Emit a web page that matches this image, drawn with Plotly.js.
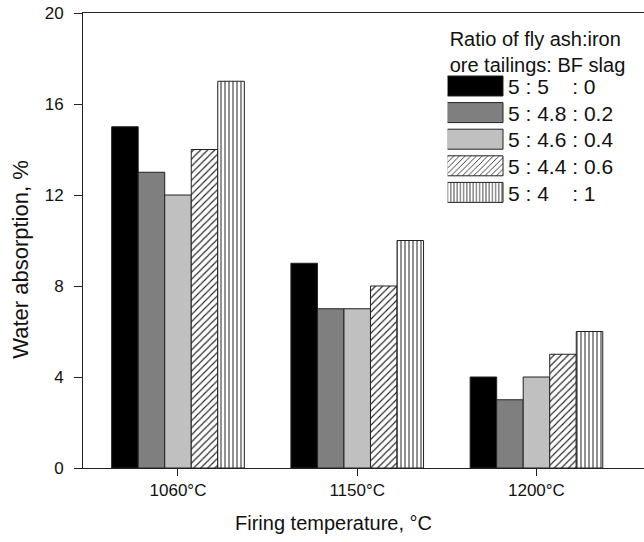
<!DOCTYPE html>
<html><head><meta charset="utf-8">
<script src="https://cdn.plot.ly/plotly-3.0.1.min.js"></script>
<style>html,body{margin:0;padding:0;background:#fff;overflow:hidden}</style>
</head><body><div id="chart" style="width:644px;height:542px"></div>
<script>
const categories = ['1060°C', '1150°C', '1200°C'];
const seriesNames = ['5\u00a0:\u00a05\u00a0\u00a0\u00a0\u00a0:\u00a00', '5\u00a0:\u00a04.8\u00a0:\u00a00.2', '5\u00a0:\u00a04.6\u00a0:\u00a00.4', '5\u00a0:\u00a04.4\u00a0:\u00a00.6', '5\u00a0:\u00a04\u00a0\u00a0\u00a0\u00a0:\u00a01'];
const ratio550 = [15, 9, 4];
const ratio5482 = [13, 7, 3];
const ratio5464 = [12, 7, 4];
const ratio5446 = [14, 8, 5];
const ratio541 = [17, 10, 6];
const yTicks = [0, 4, 8, 12, 16, 20];

const seriesValues = [ratio550, ratio5482, ratio5464, ratio5446, ratio541];
const fills = ['#000000', '#7f7f7f', '#c0c0c0', '#ffffff', '#ffffff'];
const patterns = [null, null, null,
  {shape: '/', size: 5, solidity: 0.22, fgcolor: '#222', bgcolor: '#fff'},
  {shape: '|', size: 4, solidity: 0.25, fgcolor: '#222', bgcolor: '#fff'}];

const FONT = 'Liberation Sans, Arial, Helvetica, sans-serif';
const traces = seriesValues.map((vals, i) => {
  const m = {color: fills[i], line: {color: '#222', width: 1}};
  if (patterns[i]) m.pattern = patterns[i];
  return {type: 'bar', x: categories, y: vals, name: seriesNames[i], marker: m};
});

const layout = {
  width: 644, height: 542,
  margin: {l: 83, r: 0, t: 13, b: 74},
  paper_bgcolor: '#fff', plot_bgcolor: '#fff',
  barmode: 'group', bargap: 0.26, bargroupgap: 0,
  font: {family: FONT, color: '#111', size: 17},
  xaxis: {
    type: 'category', range: [-0.53, 2.6],
    showline: true, linecolor: '#222', linewidth: 1, mirror: true,
    ticks: 'outside', ticklen: 7, tickcolor: '#222',
    showgrid: false, zeroline: false,
    tickfont: {size: 17, family: FONT, color: '#111'},
    title: {text: 'Firing temperature, °C', font: {size: 20, family: FONT, color: '#111'}, standoff: 16}
  },
  yaxis: {
    range: [0, 20], tickvals: yTicks, ticktext: yTicks.map(String),
    showline: true, linecolor: '#222', linewidth: 1,
    ticks: 'outside', ticklen: 8, tickcolor: '#222', ticklabelstandoff: 7,
    showgrid: false, zeroline: false,
    tickfont: {size: 17, family: FONT, color: '#111'},
    title: {text: 'Water absorption, %', font: {size: 22, family: FONT, color: '#111'}, standoff: 9}
  },
  legend: {
    x: 0.65, y: 0.985, xanchor: 'left', yanchor: 'top',
    bgcolor: 'rgba(0,0,0,0)', borderwidth: 0,
    font: {size: 21, family: FONT, color: '#111'},
    itemwidth: 50, traceorder: 'normal',
    title: {text: 'Ratio of fly ash:iron<br>ore tailings: BF slag', side: 'top', font: {size: 20, family: FONT, color: '#111'}}
  },
  showlegend: true
};

Plotly.newPlot('chart', traces, layout, {staticPlot: true, displayModeBar: false}).then(() => {
  const gd = document.getElementById('chart');
  const root = gd.getBoundingClientRect();
  // axis titles sit off-centre in the original figure
  const yt = gd.querySelector('.g-ytitle');
  if (yt) yt.setAttribute('transform', 'translate(0,19)');
  const xt = gd.querySelector('.g-xtitle');
  if (xt) xt.setAttribute('transform', 'translate(-30,0)');
  document.querySelectorAll('.legend g.traces').forEach((g, i) => {
    const path = g.querySelector('.legendpoints path');
    const text = g.querySelector('text.legendtext');
    if (!path || !text) return;
    let pr = path.getBoundingClientRect();
    let tr = text.getBoundingClientRect();
    const wantTextLeft = 508 + root.left;
    const wantCenterY = 86 + i * 26.6 + root.top;
    const dx = wantTextLeft - tr.left;
    const dy = wantCenterY - (pr.top + pr.height / 2);
    g.setAttribute('transform', (g.getAttribute('transform') || '') + ` translate(${dx},${dy})`);
    pr = path.getBoundingClientRect();
    tr = text.getBoundingClientRect();
    const cx = pr.left + pr.width / 2;
    const right = (tr.left - 5) - cx;
    const left = right - 56;
    path.setAttribute('d', `M${left},-10H${right}V10H${left}Z`);
  });
});
</script></body></html>
